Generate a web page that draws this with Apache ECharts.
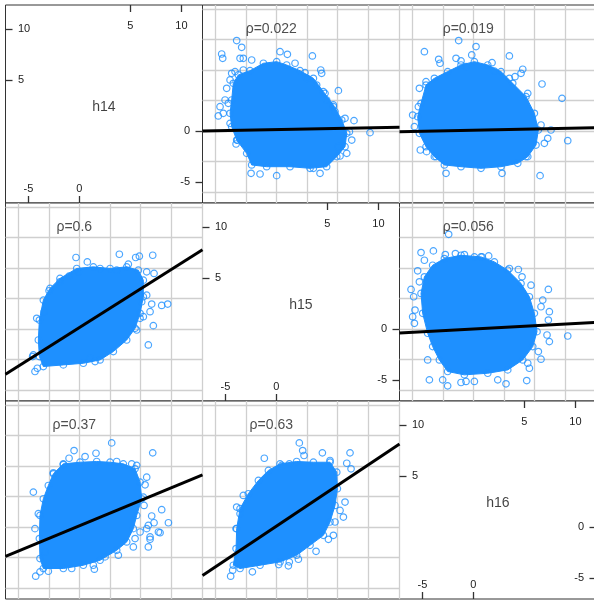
<!DOCTYPE html>
<html><head><meta charset="utf-8">
<script src="https://cdn.jsdelivr.net/npm/echarts@6/dist/echarts.min.js"></script>
<style>html,body{margin:0;padding:0;background:#fff}#c{width:594px;height:600px}</style>
</head><body><div id="c"></div>
<script>
// ---------- data ----------
const variables = ['h14', 'h15', 'h16'];
const topTicks = [5, 10];
const bottomTicks = [-5, 0];
const leftTicks = [5, 10];
const rightTicks = [-5, 0];
const gridTicks = [-6, -3, 0, 3, 6, 9, 12];

// panel cells [row, col] for off-diagonal panels
const panelCells = [[0, 1], [0, 2], [1, 0], [1, 2], [2, 0], [2, 1]];
const rhoText = ['ρ=0.022', 'ρ=0.019', 'ρ=0.6', 'ρ=0.056', 'ρ=0.37', 'ρ=0.63'];

// dense core outlines (x, y)
const core12 = [[-4.38,3.05],[-4.22,4.69],[-3.73,5.51],[-2.58,5.93],[-1.27,6.66],[0.03,6.82],[1.01,6.49],[2.32,5.93],[3.63,5.18],[4.61,3.87],[5.59,2.56],[6.41,1.08],[6.90,-0.23],[6.73,-1.54],[5.92,-2.52],[4.93,-3.51],[3.30,-3.67],[1.34,-3.51],[-0.95,-3.51],[-2.42,-3.34],[-2.91,-2.20],[-3.89,-0.89],[-4.38,0.43],[-4.54,1.74]];
const core13 = [[-5.13,2.72],[-4.64,4.52],[-3.82,5.18],[-2.52,5.84],[-1.21,6.49],[0.10,6.82],[1.41,6.49],[2.71,5.84],[3.86,4.69],[5.16,3.38],[5.98,1.74],[6.37,0.10],[6.14,-1.38],[5.33,-2.52],[4.35,-3.18],[2.71,-3.51],[0.75,-3.67],[-1.21,-3.51],[-2.84,-3.34],[-3.82,-2.52],[-4.64,-1.54],[-5.29,-0.23],[-5.46,1.41]];
const core21 = [[-0.26,5.95],[1.37,6.11],[3.01,5.95],[4.64,6.11],[5.78,5.78],[6.27,4.80],[6.27,3.17],[5.95,1.54],[5.46,0.07],[4.64,-1.08],[3.33,-2.22],[2.03,-3.04],[0.39,-3.37],[-1.57,-3.53],[-3.53,-3.69],[-3.92,-2.71],[-4.02,-1.08],[-3.92,0.88],[-3.53,2.84],[-2.88,3.99],[-1.90,4.97]];
const core23 = [[-2.84,6.93],[-1.21,7.25],[0.75,7.09],[2.06,6.60],[3.37,5.78],[4.67,4.48],[5.49,3.17],[5.98,1.54],[6.24,-0.26],[5.82,-1.73],[4.84,-3.04],[3.37,-4.02],[1.41,-4.35],[-0.88,-4.51],[-2.52,-4.18],[-3.33,-3.04],[-3.99,-1.73],[-4.48,-0.42],[-4.97,1.54],[-5.13,3.50],[-4.80,5.13],[-3.99,6.27]];
const core31 = [[-1.57,6.21],[0.07,6.37],[1.70,6.44],[3.01,6.37],[4.31,6.21],[5.46,5.72],[5.95,4.41],[6.11,2.78],[5.62,1.14],[5.29,-0.16],[4.64,-1.47],[3.66,-2.29],[2.03,-3.27],[0.39,-3.76],[-1.57,-4.08],[-3.53,-4.08],[-3.86,-3.10],[-3.92,-1.14],[-3.86,1.14],[-3.53,2.78],[-3.04,4.08],[-2.55,5.23]];
const core32 = [[0.36,6.21],[1.99,6.44],[3.63,6.37],[5.26,6.37],[5.92,5.39],[5.98,3.76],[5.75,2.12],[5.26,0.49],[4.61,-0.82],[3.30,-1.80],[1.99,-2.78],[0.36,-3.43],[-1.60,-3.76],[-3.56,-4.08],[-4.22,-3.76],[-3.95,-2.12],[-3.89,-0.16],[-3.56,1.80],[-2.75,3.27],[-1.76,4.58],[-0.78,5.56]];

// sparse points outside the core (x, y)
const out12 = [[-3.89,8.89],[-3.40,8.23],[-5.36,7.57],[-5.26,7.15],[-3.56,7.15],[-3.24,7.15],[-2.42,6.98],[0.36,7.80],[1.08,7.54],[3.53,7.38],[-3.24,6.00],[-4.05,5.84],[-4.38,5.67],[1.83,6.66],[4.35,6.00],[4.44,5.67],[2.81,5.74],[2.97,5.18],[3.95,4.52],[4.77,3.70],[6.08,3.97],[4.93,3.05],[5.59,2.39],[5.75,1.90],[6.73,1.25],[7.61,1.02],[7.16,-0.07],[9.18,-0.16],[7.39,-0.89],[6.90,-2.20],[6.24,-2.46],[6.08,-1.54],[4.28,-4.16],[3.63,-3.67],[0.03,-4.39],[-1.60,-4.23],[-2.48,-4.16],[-3.95,-1.28],[-3.82,-0.89],[-5.52,2.39],[-5.69,1.48],[-5.20,1.74],[-4.54,0.75],[-4.71,2.72],[-5.03,3.05],[-4.87,4.20],[-4.54,5.02]];
const out13 = [[-1.44,8.89],[-4.80,7.80],[0.26,8.30],[-0.16,7.48],[3.53,7.38],[-1.70,7.15],[-3.40,7.05],[-3.27,6.66],[-1.21,6.89],[-0.72,6.33],[1.83,6.72],[2.06,5.90],[4.84,6.07],[4.67,5.67],[4.08,5.34],[6.73,4.62],[8.69,3.21],[3.53,5.18],[5.33,3.70],[-5.29,4.20],[-4.64,4.85],[-5.39,2.39],[-5.95,1.57],[-5.78,0.43],[-5.20,-1.87],[-4.58,-2.03],[-3.66,-2.52],[-2.68,-4.16],[2.81,-4.16],[6.54,-4.39],[9.25,-0.95],[7.29,-0.72],[7.61,0.10],[6.63,0.59],[6.96,-1.21],[5.16,-2.52]];
const out21 = [[-0.33,7.03],[0.78,6.60],[3.92,7.35],[5.52,7.03],[5.88,7.16],[7.19,7.25],[4.80,6.37],[6.60,5.62],[7.32,5.46],[-2.97,3.76],[-1.90,4.64],[-1.01,5.20],[-4.18,1.05],[-3.46,1.70],[7.09,2.45],[8.07,2.32],[8.66,2.45],[6.93,1.70],[6.27,1.21],[5.95,1.05],[7.25,0.33],[6.76,-1.57],[5.62,-0.10],[-4.51,-2.55],[-4.35,-4.18],[-4.12,-3.86],[1.54,-3.20],[1.05,-2.88],[-4.58,-2.71],[6.11,2.68],[6.60,3.33],[-0.10,5.62],[2.03,5.95],[3.66,5.78]];
const out23 = [[-5.13,7.52],[-3.92,7.68],[-2.42,9.31],[-4.80,6.76],[-2.75,7.32],[-1.76,7.42],[-0.88,7.32],[0.10,7.09],[0.85,7.09],[1.50,7.19],[3.53,5.95],[4.41,5.85],[-5.46,5.72],[-5.29,4.64],[-6.11,3.89],[-5.85,3.17],[-5.72,1.86],[-5.95,1.21],[-5.78,0.56],[4.77,5.13],[5.65,4.31],[7.35,3.89],[6.80,2.84],[6.63,2.19],[7.45,1.70],[7.35,0.88],[9.25,-0.69],[7.22,-0.59],[7.45,-1.24],[6.37,-2.22],[6.63,-2.97],[5.33,-3.37],[5.49,-3.86],[5.23,-5.07],[3.20,-5.39],[2.39,-5.00],[0.10,-5.16],[-0.72,-5.16],[-1.21,-5.26],[-2.52,-5.59],[-3.01,-5.00],[-4.31,-5.00],[-4.48,-3.04]];
const out31 = [[3.17,8.27],[-0.52,7.52],[1.63,7.25],[7.19,7.29],[-1.01,6.76],[0.56,6.93],[3.66,6.44],[5.13,6.21],[5.62,6.05],[-1.57,6.14],[-2.55,5.33],[6.60,4.90],[6.44,4.15],[-4.51,3.43],[-4.02,1.31],[-4.35,-0.16],[6.27,2.94],[6.34,2.12],[8.07,1.70],[7.09,1.08],[7.32,0.42],[8.73,0.42],[7.91,-0.56],[6.76,0.16],[6.60,-0.16],[5.95,-0.49],[5.46,-1.14],[5.29,-1.96],[6.76,-1.96],[7.75,-0.49],[6.93,-0.98],[6.93,-1.21],[3.82,-2.78],[2.52,-2.94],[-4.28,-4.84],[-3.86,-4.41],[-3.04,-4.35],[-0.75,-4.08],[1.47,-4.15],[1.37,-3.76],[-3.37,-2.45]];
const out32 = [[2.25,8.27],[2.58,7.52],[2.71,7.03],[-1.18,6.76],[4.51,7.29],[7.22,7.29],[5.26,6.54],[6.90,6.27],[7.32,5.72],[1.27,6.21],[0.52,6.05],[-3.24,3.10],[-3.89,1.96],[-3.56,1.31],[-3.95,-0.16],[6.73,2.45],[6.24,1.63],[6.57,0.98],[5.75,0.49],[5.59,-0.82],[5.10,-1.21],[3.89,-2.39],[2.16,-3.17],[1.18,-3.82],[1.27,-3.43],[0.23,-3.69],[-2.35,-4.41],[-4.48,-4.84],[-4.28,-4.25]];

// fitted lines (end points)
const line12 = [[-7.24, 0.00], [12.07, 0.37]];
const line13 = [[-7.24, -0.07], [12.07, 0.33]];
const line21 = [[-7.24, -4.44], [12.07, 7.79]];
const line23 = [[-7.24, -0.39], [12.07, 0.66]];
const line31 = [[-7.24, -2.88], [12.07, 5.12]];
const line32 = [[-7.24, -4.78], [12.07, 8.17]];

// ---------- chart ----------
const cores = [core12, core13, core21, core23, core31, core32];
const outs = [out12, out13, out21, out23, out31, out32];
const lines = [line12, line13, line21, line23, line31, line32];

const BLUE = '#1E90FF';
const FONT = '"Liberation Sans", Arial, sans-serif';
const X_MIN = -7.24, X_MAX = 12.07, Y_MIN = -7.08, Y_MAX = 12.39;

const grids = [], xAxes = [], yAxes = [], series = [];
const xIdx = {}, yIdx = {};

function diagAxis(dim, g, pos, ticks, margin) {
  return {
    gridIndex: g, type: 'value', position: pos,
    min: dim === 'x' ? X_MIN : Y_MIN, max: dim === 'x' ? X_MAX : Y_MAX,
    axisLine: { show: false, onZero: false },
    axisTick: { show: true, inside: true, length: 7, customValues: ticks, lineStyle: { color: '#333', width: 1.3 } },
    axisLabel: { show: true, inside: true, margin: margin, customValues: ticks, color: '#222', fontSize: 11, fontFamily: FONT },
    splitLine: { show: false }
  };
}

function plainAxis(dim, g, pos) {
  return {
    gridIndex: g, type: 'value', position: pos,
    min: dim === 'x' ? X_MIN : Y_MIN, max: dim === 'x' ? X_MAX : Y_MAX,
    axisLine: { show: false, onZero: false },
    axisTick: { show: false, customValues: gridTicks },
    axisLabel: { show: false, customValues: gridTicks },
    splitLine: { show: true, lineStyle: { color: '#cfcfcf', width: 1.3 } }
  };
}

for (let r = 0; r < 3; r++) {
  for (let c = 0; c < 3; c++) {
    const g = r * 3 + c;
    grids.push({
      left: 5.5 + 197 * c, top: 5 + 198 * r, width: 197, height: 198,
      show: true, borderColor: '#333', borderWidth: 1, backgroundColor: '#fff',
      containLabel: false, outerBoundsMode: 'none'
    });
    xIdx[g] = xAxes.length;
    yIdx[g] = yAxes.length;
    if (r === c) {
      xAxes.push(diagAxis('x', g, 'bottom', bottomTicks, 8.5));
      xAxes.push(diagAxis('x', g, 'top', topTicks, 15));
      yAxes.push(diagAxis('y', g, 'left', leftTicks, 12.5));
      yAxes.push(diagAxis('y', g, 'right', rightTicks, 12.5));
    } else {
      xAxes.push(plainAxis('x', g, 'bottom'));
      yAxes.push(plainAxis('y', g, 'left'));
    }
  }
}

// diagonal names
for (let i = 0; i < 3; i++) {
  const g = i * 4;
  series.push({
    type: 'scatter', xAxisIndex: xIdx[g], yAxisIndex: yIdx[g],
    data: [[2.4, 2.35]], symbolSize: 1, itemStyle: { color: 'rgba(0,0,0,0)' }, silent: true,
    label: { show: true, position: 'inside', formatter: variables[i], color: '#111', fontSize: 14, fontFamily: FONT },
    z: 5
  });
}

panelCells.forEach((cell, k) => {
  const g = cell[0] * 3 + cell[1];
  const xi = xIdx[g], yi = yIdx[g];
  const core = cores[k];
  series.push({
    type: 'custom', xAxisIndex: xi, yAxisIndex: yi, data: core, silent: true, z: 2,
    renderItem: function (params, api) {
      if (params.dataIndex !== 0) return null;
      const pts = core.map(p => api.coord(p));
      return { type: 'polygon', shape: { points: pts }, style: { fill: BLUE, stroke: BLUE, lineWidth: 1 } };
    }
  });
  series.push({
    type: 'scatter', xAxisIndex: xi, yAxisIndex: yi, data: core.concat(outs[k]),
    symbol: 'circle', symbolSize: 6.5, silent: true, z: 3,
    itemStyle: { color: 'rgba(0,0,0,0)', borderColor: BLUE, borderWidth: 1.2 }
  });
  series.push({
    type: 'line', xAxisIndex: xi, yAxisIndex: yi, data: lines[k], symbol: 'none', silent: true, z: 4,
    lineStyle: { color: '#000', width: 3 }
  });
  series.push({
    type: 'scatter', xAxisIndex: xi, yAxisIndex: yi, data: [[-0.5, 10]], symbolSize: 1, silent: true, z: 5,
    itemStyle: { color: 'rgba(0,0,0,0)' },
    label: { show: true, position: 'inside', formatter: rhoText[k], color: '#222', fontSize: 14, fontFamily: FONT }
  });
});

const chart = echarts.init(document.getElementById('c'), null, { renderer: 'canvas' });
chart.setOption({
  animation: false,
  backgroundColor: '#fff',
  grid: grids, xAxis: xAxes, yAxis: yAxes, series: series
});
</script></body></html>
